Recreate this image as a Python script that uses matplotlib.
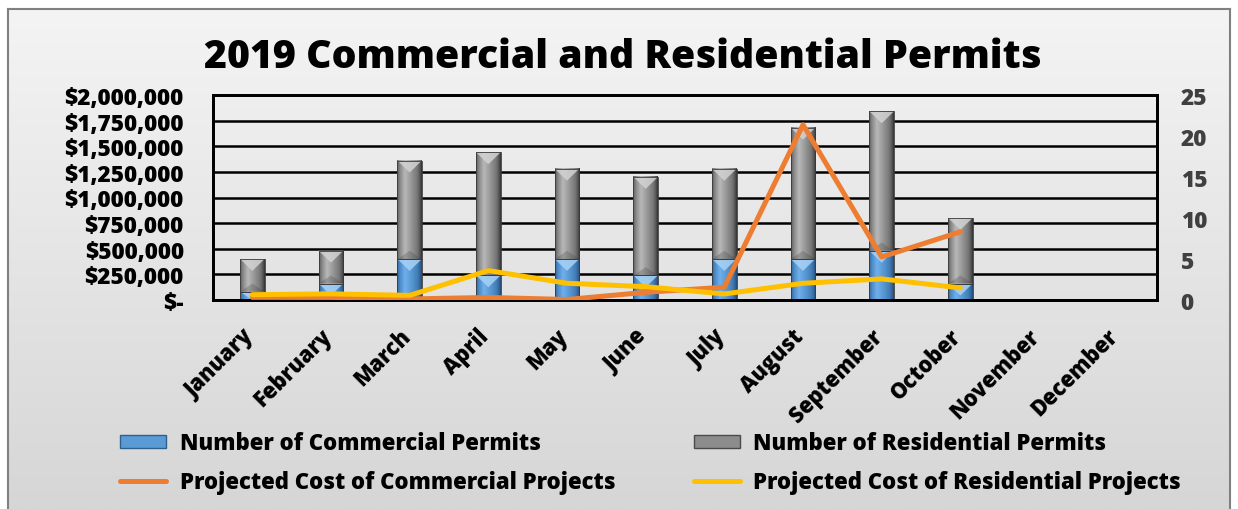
import numpy as np
import matplotlib
matplotlib.use("Agg")
import matplotlib.pyplot as plt
import matplotlib.transforms as mtransforms
from matplotlib.colors import LinearSegmentedColormap
from matplotlib.patches import Polygon, Rectangle, Patch
from matplotlib.lines import Line2D
from matplotlib.ticker import FuncFormatter

plt.rcParams['font.family'] = ['Open Sans', 'DejaVu Sans']
plt.rcParams['font.weight'] = 800

months = ['January', 'February', 'March', 'April', 'May', 'June', 'July',
          'August', 'September', 'October', 'November', 'December']
# permit counts (right axis)
commercial_permits = [1, 2, 5, 3, 5, 3, 5, 5, 6, 2, 0, 0]
residential_permits = [4, 4, 12, 15, 11, 12, 11, 16, 17, 8, 0, 0]
# projected costs in dollars (left axis), Jan-Oct only
commercial_cost = [26000, 25000, 10000, 25000, 5000, 75000, 125000, 1710000, 420000, 665000]
residential_cost = [52000, 60000, 45000, 287000, 163000, 130000, 59000, 163000, 206000, 118000]

W, H = 1238, 510
fig = plt.figure(figsize=(W / 100, H / 100), dpi=100, facecolor='white')

# light-to-darker grey backdrop inside a thin border
bg = fig.add_axes([8 / W, 0, (1230 - 8) / W, (H - 10) / H])
grad = np.linspace(0, 1, 256).reshape(-1, 1)
bg_cmap = LinearSegmentedColormap.from_list('bg', ['#f4f4f4', '#d6d6d6'])
bg.imshow(grad, cmap=bg_cmap, aspect='auto', extent=(0, 1, 0, 1), origin='upper')
bg.set_xlim(0, 1)
bg.set_ylim(0, 1)
bg.set_xticks([])
bg.set_yticks([])
for side in ['left', 'top', 'right']:
    bg.spines[side].set_color('#808080')
    bg.spines[side].set_linewidth(1.5)
bg.spines['bottom'].set_visible(False)

# counts axis is the main one (bars), dollars on the twin (lines drawn on top)
ax = fig.add_axes([213 / W, 1 - 301 / H, (1157 - 213) / W, (301 - 96) / H])
ax.patch.set_alpha(0)
ax2 = ax.twinx()
ax.yaxis.tick_right()
ax2.yaxis.tick_left()

x = np.arange(len(months))
ax.set_xlim(-0.5, len(months) - 0.5)
ax.set_ylim(0, 25)
ax2.set_ylim(0, 2000000)

# black gridlines at every $250,000
trans = mtransforms.blended_transform_factory(ax.transAxes, ax2.transData)
for v in np.arange(250000, 2000000, 250000):
    ax.add_artist(Line2D([0, 1], [v, v], transform=trans, color='black', lw=1.8, zorder=1))

gray_cmap = LinearSegmentedColormap.from_list('gray_bevel', [
    (0.0, '#5e5e5e'), (0.12, '#8a8a8a'), (0.32, '#b8b8b8'), (0.55, '#9a9a9a'),
    (0.82, '#767676'), (0.93, '#555555'), (1.0, '#333333')])
blue_cmap = LinearSegmentedColormap.from_list('blue_bevel', [
    (0.0, '#34679a'), (0.12, '#4f8cc8'), (0.32, '#6fb0ec'), (0.55, '#5b9bd5'),
    (0.82, '#437fb8'), (0.93, '#33649a'), (1.0, '#244a72')])
hgrad = np.linspace(0, 1, 64).reshape(1, -1)
bw = 0.31


def bevel_bar(xc, bottom, height, cmap, cap, base):
    if height <= 0:
        return
    top = bottom + height
    ax.imshow(hgrad, cmap=cmap, aspect='auto', interpolation='bilinear',
              extent=(xc - bw / 2, xc + bw / 2, bottom, top), zorder=2)
    h = min(1.45, height)
    ax.add_patch(Polygon([(xc - bw / 2, top), (xc + bw / 2, top), (xc, top - h)],
                         closed=True, facecolor=cap, edgecolor='none', alpha=0.85, zorder=3))
    if bottom > 0:
        hb = min(1.0, height * 0.4)
        ax.add_patch(Polygon([(xc - bw / 2, bottom), (xc + bw / 2, bottom), (xc, bottom + hb)],
                             closed=True, facecolor=base, edgecolor='none', alpha=0.25, zorder=3))
    ax.add_patch(Rectangle((xc - bw / 2, bottom), bw, height, facecolor='none',
                           edgecolor='#3a3a3a', lw=0.6, zorder=3))


for i in range(len(months)):
    bevel_bar(x[i], 0, commercial_permits[i], blue_cmap, '#a8d2f5', '#1f4a78')
    bevel_bar(x[i], commercial_permits[i], residential_permits[i], gray_cmap, '#d2d2d2', '#3a3a3a')

ax.set_xlim(-0.5, len(months) - 0.5)
ax.set_ylim(0, 25)

n = len(commercial_cost)
ax2.plot(x[:n], commercial_cost, color='#ed7d31', lw=3.6, solid_capstyle='round', zorder=4)
ax2.plot(x[:n], residential_cost, color='#ffc000', lw=3.6, solid_capstyle='round', zorder=4)

ax.set_yticks(range(0, 26, 5))
ax2.set_yticks(np.arange(0, 2000001, 250000))
ax2.yaxis.set_major_formatter(FuncFormatter(lambda v, p: '$-' if v == 0 else f'${v:,.0f}'))
ax.tick_params(axis='y', length=0, pad=17, labelsize=16.3, labelcolor='#404040')
ax2.tick_params(axis='y', length=0, pad=21, labelsize=16.3, labelcolor='black')
ax.set_xticks(x)
ax.set_xticklabels(months, rotation=45, ha='right', rotation_mode='anchor', fontsize=15.5)
ax.tick_params(axis='x', length=0, pad=15)
shift = mtransforms.ScaledTranslation(-0.11, -0.03, fig.dpi_scale_trans)
for lbl in ax.get_xticklabels():
    lbl.set_transform(lbl.get_transform() + shift)

for a in (ax, ax2):
    for s in a.spines.values():
        s.set_color('black')
        s.set_linewidth(2)

fig.text(623 / W, 1 - 57 / H, '2019 Commercial and Residential Permits',
         ha='center', va='center', fontsize=28.3, fontweight=800)

handles = [
    Patch(facecolor='#5b9bd5', edgecolor='#2f5f8a', lw=1),
    Line2D([], [], color='#ed7d31', lw=3.6, solid_capstyle='round'),
    Patch(facecolor='#8c8c8c', edgecolor='#4a4a4a', lw=1),
    Line2D([], [], color='#ffc000', lw=3.6, solid_capstyle='round'),
]
labels = ['Number of Commercial Permits', 'Projected Cost of Commercial Projects',
          'Number of Residential Permits', 'Projected Cost of Residential Projects']
fig.legend(handles, labels, loc='upper left', bbox_to_anchor=(120 / W, 1 - 432 / H),
           ncol=2, frameon=False, handlelength=2.1, handleheight=0.55,
           handletextpad=0.6, columnspacing=3.55, labelspacing=0.7,
           borderpad=0, borderaxespad=0, prop={'weight': 800, 'size': 15.9})

fig.savefig('out.png', dpi=100, facecolor='white')
